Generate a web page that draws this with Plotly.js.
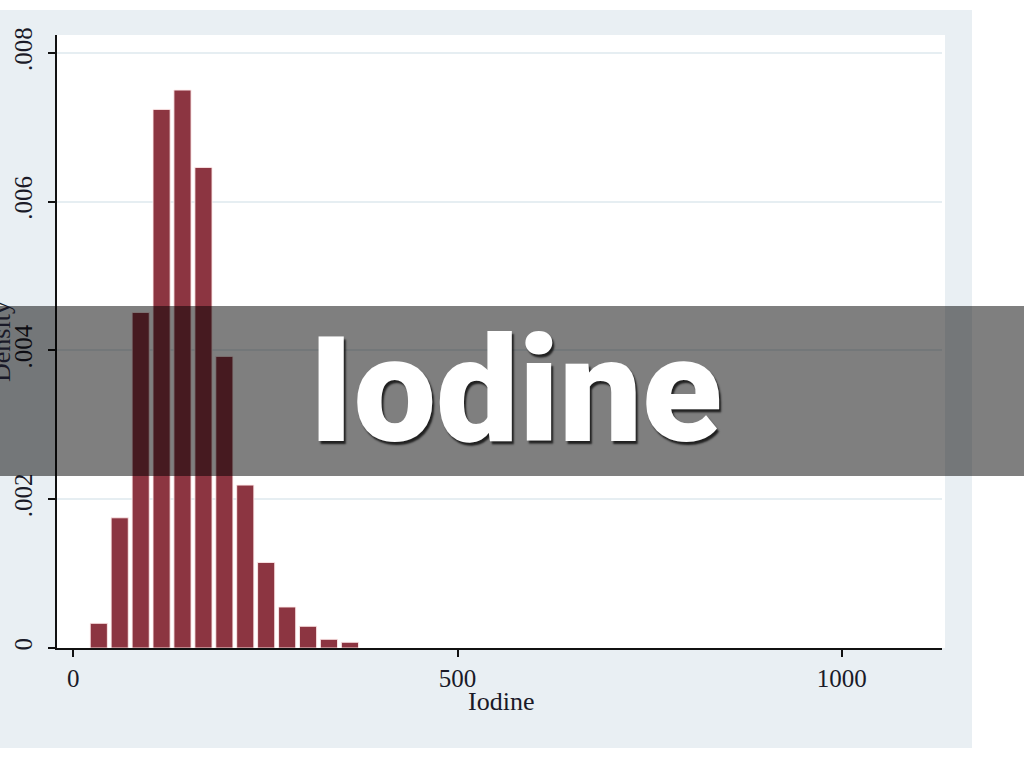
<!DOCTYPE html>
<html>
<head>
<meta charset="utf-8">
<script src="https://cdn.plot.ly/plotly-3.0.1.min.js"></script>
<style>
html,body{margin:0;padding:0;background:#fff;}
#chart{width:1024px;height:768px;}
</style>
</head>
<body>
<div id="chart"></div>
<script>
// Data
var binCenters = [33.2, 60.4, 87.7, 114.9, 142.1, 169.4, 196.6, 223.8, 251.0, 278.3, 305.5, 332.7, 360.0];
var density = [0.000332, 0.00175, 0.00451, 0.00724, 0.00750, 0.00646, 0.00392, 0.00219, 0.00115, 0.000551, 0.000292, 0.000117, 0.000077];
var xTickVals = [0, 500, 1000];
var xTickText = ['0', '500', '1000'];
var yTickVals = [0, 0.002, 0.004, 0.006, 0.008];
var yTickText = ['0', '.002', '.004', '.006', '.008'];
var xTitle = 'Iodine';
var yTitle = 'Density';
var bannerText = 'Iodine';

// layout geometry (pixels)
var W = 1024, H = 768;
var L = 57, R = 942, T = 35, B = 648;
var pw = R - L, ph = B - T;
function px(x){ return (x - L) / pw; }
function py(y){ return (B - y) / ph; }

var trace = {
  type: 'bar',
  x: binCenters,
  y: density,
  marker: {color: '#8c3541', line: {color: 'rgba(255,235,235,0.9)', width: 1}},
  hoverinfo: 'skip'
};

var layout = {
  width: W, height: H,
  margin: {l: L, r: W - R, t: T, b: H - B, pad: 0},
  paper_bgcolor: '#ffffff',
  plot_bgcolor: 'rgba(0,0,0,0)',
  showlegend: false,
  bargap: 0.18,
  xaxis: {
    range: [-21.2, 1130.5],
    tickvals: xTickVals, ticktext: xTickText,
    ticks: 'outside', ticklen: 7, tickwidth: 2, tickcolor: '#111',
    showline: true, linecolor: '#111', linewidth: 2,
    showgrid: false, zeroline: false,
    tickfont: {family: 'Liberation Serif', size: 25, color: '#1a1a28'}
  },
  yaxis: {
    range: [0, 0.00824],
    tickvals: yTickVals, ticktext: yTickText,
    tickangle: -90,
    ticks: 'outside', ticklen: 7, tickwidth: 2, tickcolor: '#111',
    showline: true, linecolor: '#111', linewidth: 2,
    showgrid: true, gridcolor: '#e6eef2', gridwidth: 2,
    zeroline: false,
    ticklabelstandoff: 6,
    tickfont: {family: 'Liberation Serif', size: 25, color: '#1a1a28'}
  },
  shapes: [
    {type: 'rect', xref: 'paper', yref: 'paper', layer: 'below',
     x0: px(0), x1: px(972), y0: py(748), y1: py(10),
     fillcolor: '#e9eff3', line: {width: 0}},
    {type: 'rect', xref: 'paper', yref: 'paper', layer: 'below',
     x0: px(55), x1: px(945), y0: py(648), y1: py(35),
     fillcolor: '#ffffff', line: {width: 0}},
    {type: 'rect', xref: 'paper', yref: 'paper', layer: 'above',
     x0: px(-5), x1: px(1030), y0: py(476), y1: py(306),
     fillcolor: 'rgba(0,0,0,0.5)', line: {width: 0}}
  ],
  annotations: [
    {xref: 'paper', yref: 'paper', x: px(501), y: py(701), xanchor: 'center', yanchor: 'middle',
     text: xTitle, showarrow: false,
     font: {family: 'Liberation Serif', size: 26, color: '#1a1a28'}},
    {xref: 'paper', yref: 'paper', x: px(1), y: py(342), xanchor: 'center', yanchor: 'middle',
     text: yTitle, textangle: -90, showarrow: false,
     font: {family: 'Liberation Serif', size: 26, color: '#1a1a28'}},
    {xref: 'paper', yref: 'paper', x: px(515), y: py(391), xanchor: 'center', yanchor: 'middle',
     text: bannerText, showarrow: false,
     font: {family: 'Roboto', size: 147, weight: 900, color: '#ffffff',
            shadow: '2px 3px 2px rgba(0,0,0,0.75)'}}
  ]
};

Plotly.newPlot('chart', [trace], layout, {displayModeBar: false, staticPlot: true});
</script>
</body>
</html>
